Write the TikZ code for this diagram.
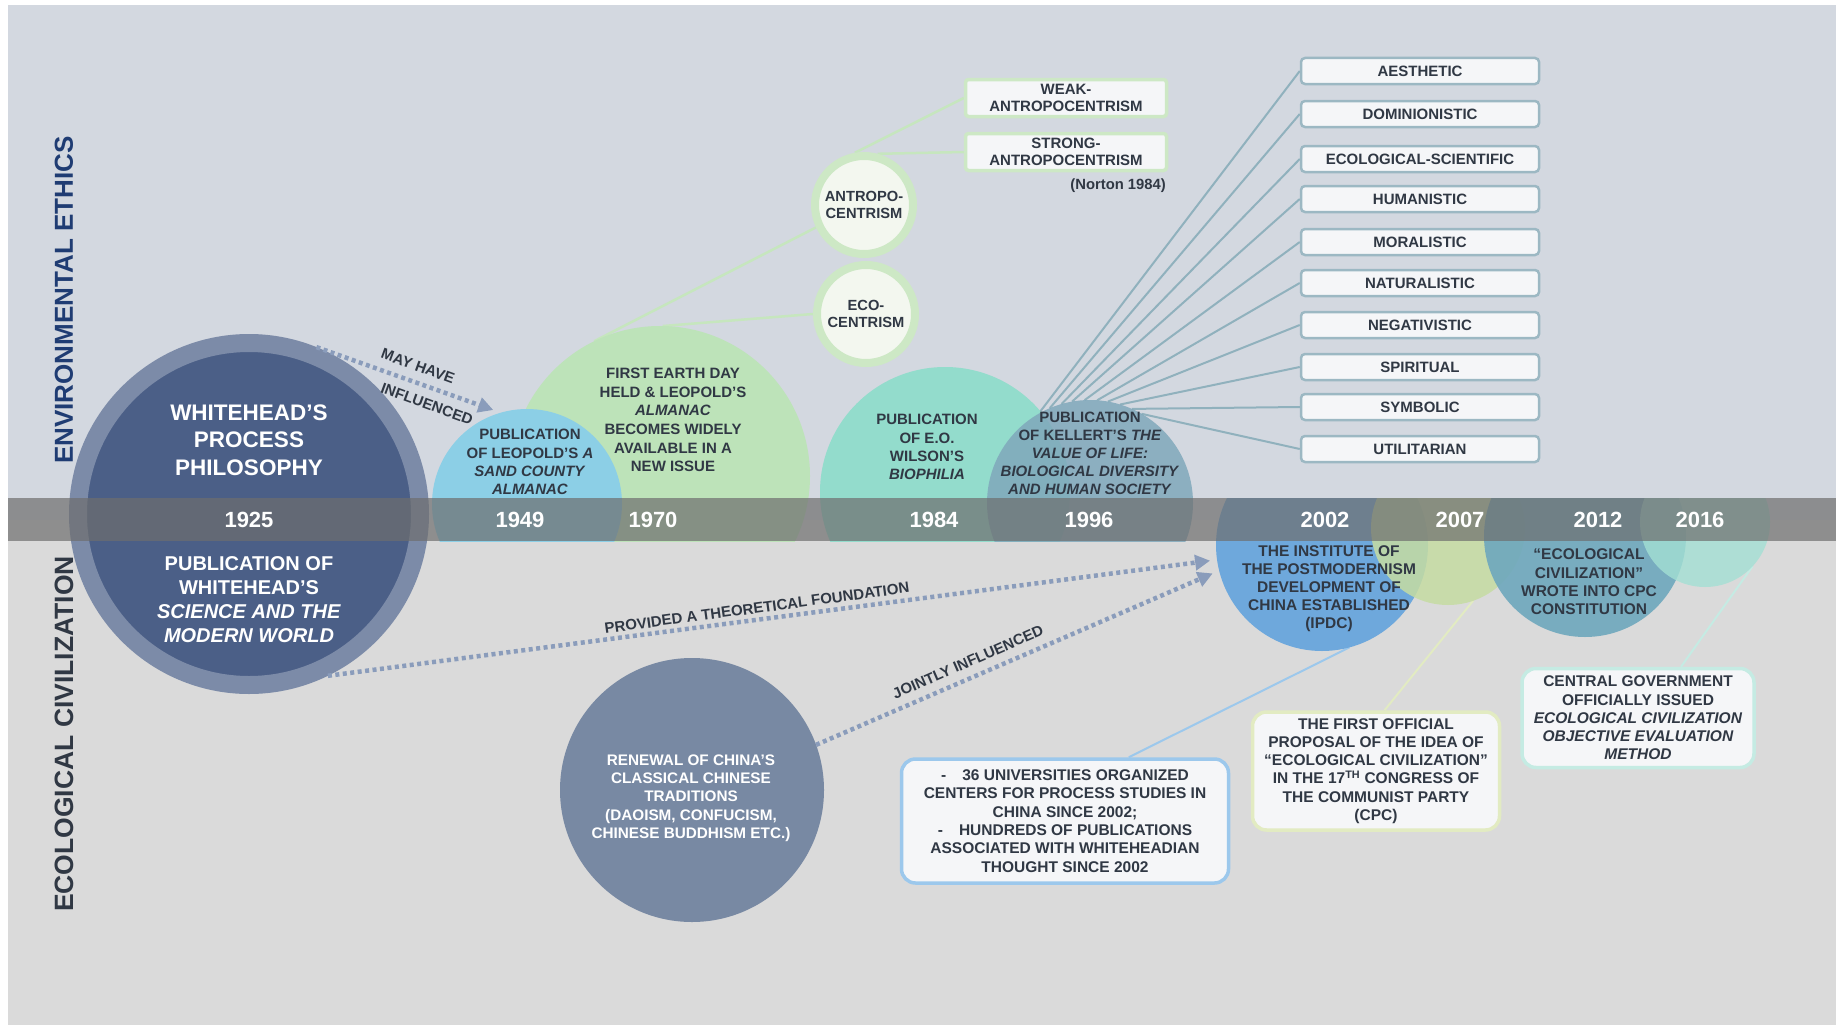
\documentclass[tikz,border=0pt]{standalone}
\usepackage{fontspec}
\setmainfont{Liberation Sans}
\usetikzlibrary{arrows.meta}
\pgfdeclarelayer{back}
\pgfdeclarelayer{lines}
\pgfsetlayers{back,lines,main}
\definecolor{bgtop}{HTML}{D3D8E0}
\definecolor{bgbot}{HTML}{DADADA}
\definecolor{bandc}{HTML}{6E6E6E}
\definecolor{txt}{HTML}{303844}
\definecolor{navy}{HTML}{1F3C73}
\definecolor{whring}{HTML}{7C8BA8}
\definecolor{whin}{HTML}{4B5F87}
\definecolor{c49}{HTML}{8CCFE6}
\definecolor{c70}{HTML}{BDE3B9}
\definecolor{c84}{HTML}{93DCCC}
\definecolor{c96}{HTML}{80A8BB}
\definecolor{c02}{HTML}{6EA8DC}
\definecolor{c07}{HTML}{C6DCA2}
\definecolor{c12}{HTML}{6EA7BD}
\definecolor{c16}{HTML}{A3E0D4}
\definecolor{renew}{HTML}{7889A3}
\definecolor{glow}{HTML}{CDE8C5}
\definecolor{glowin}{HTML}{F3F7EF}
\definecolor{boxfill}{HTML}{F5F6F8}
\definecolor{vline}{HTML}{90B1BD}
\definecolor{vborder}{HTML}{9CB8C3}
\definecolor{arrowc}{HTML}{8A9CBB}
\definecolor{blueline}{HTML}{9CC8EC}
\definecolor{yline}{HTML}{E2EBC2}
\definecolor{tline}{HTML}{C5EBE3}
\definecolor{gline}{HTML}{C6E6BE}
\newcommand{\fsz}[2]{\fontsize{#1}{#2}\selectfont}
\tikzset{
  bub/.style={circle, inner sep=0pt, outer sep=0pt},
  dtxt/.style={text=txt, align=center, inner sep=0pt, font=\bfseries\fsz{15}{18.3}},
  wtxt/.style={text=white, align=center, inner sep=0pt, font=\bfseries\fsz{15.3}{18.3}},
  yr/.style={text=white, inner sep=0pt, font=\bfseries\fsz{22}{24}},
  valbox/.style={draw=vborder, line width=2.5pt, fill=boxfill, rounded corners=4pt, minimum width=238pt, minimum height=26pt, inner sep=0pt, text=txt, font=\bfseries\fsz{15}{17}},
  gbox/.style={draw=glow, line width=3.5pt, fill=boxfill, rounded corners=3pt, minimum width=201pt, minimum height=37pt, inner sep=0pt, align=center, text=txt, font=\bfseries\fsz{15}{17}},
  gcirc/.style={circle, draw=glow, line width=8pt, fill=glowin, minimum size=98pt, inner sep=0pt, align=center, text=txt, font=\bfseries\fsz{14.7}{17}},
  infobox/.style={line width=3.5pt, fill=boxfill, rounded corners=14pt, inner sep=0pt, align=center, text=txt, font=\bfseries\fsz{15.5}{18.3}},
  conn/.style={line width=2pt},
  dotarrow/.style={draw=arrowc, line width=4.5pt, dash pattern=on 4pt off 3.5pt, -{Triangle[length=15pt,width=15pt]}},
  albl/.style={text=txt, inner sep=0pt, font=\bfseries\fsz{15}{17}},
  side/.style={rotate=90, inner sep=0pt, font=\bfseries\fsz{26}{28}},
}
\begin{document}
\begin{tikzpicture}[x=1pt,y=-1pt]
\useasboundingbox (0,0) rectangle (1836,1025);
\begin{pgfonlayer}{back}
\fill[white] (0,0) rectangle (1836,1025);
\fill[bgtop] (8,5) rectangle (1836,520);
\fill[bgbot] (8,520) rectangle (1836,1025);
\end{pgfonlayer}

% side labels
\node[side, text=navy] (envlbl) at (64,300) {ENVIRONMENTAL ETHICS};
\node[side, text=txt, font=\bfseries\fsz{26.5}{28}] (ecolbl) at (64,734) {ECOLOGICAL CIVILIZATION};

% upper circles (cut at the bottom of the band)
\begin{scope}
\clip (8,0) rectangle (1836,541);
\node[bub, minimum size=300pt, fill=c70] (c70) at (660,476) {};
\node[bub, minimum size=190pt, fill=c49] (c49) at (527,504) {};
\node[bub, minimum size=250pt, fill=c84] (c84) at (945,492) {};
\node[bub, minimum size=206pt, fill=c96, fill opacity=0.85] (c96) at (1090,503) {};
\end{scope}

% lower circles (cut at the top of the band)
\begin{scope}
\clip (8,498) rectangle (1836,1025);
\node[bub, minimum size=212pt, fill=c02] (c02) at (1322,545) {};
\node[bub, minimum size=154pt, fill=c07, fill opacity=0.85] (c07) at (1448,528) {};
\node[bub, minimum size=202pt, fill=c12, fill opacity=0.9] (c12) at (1585,536) {};
\node[bub, minimum size=130pt, fill=c16, fill opacity=0.8] (c16) at (1705,522) {};
\end{scope}

% Whitehead circle
\node[circle, draw=whring, line width=18pt, fill=whin, minimum size=342pt, inner sep=0pt] (wh) at (249,514) {};

% band
\fill[bandc, fill opacity=0.7] (8,498) rectangle (1836,541);

% years
\node[yr] (y1925) at (249,520) {1925};
\node[yr] (y1949) at (520,520) {1949};
\node[yr] (y1970) at (653,520) {1970};
\node[yr] (y1984) at (934,520) {1984};
\node[yr] (y1996) at (1089,520) {1996};
\node[yr] (y2002) at (1325,520) {2002};
\node[yr] (y2007) at (1460,520) {2007};
\node[yr] (y2012) at (1598,520) {2012};
\node[yr] (y2016) at (1700,520) {2016};

% Whitehead texts
\node[text=white, align=center, inner sep=0pt, font=\bfseries\fsz{22.5}{27.5}] (whtop) at (249,440) {WHITEHEAD'S\\PROCESS\\PHILOSOPHY};
\node[text=white, align=center, inner sep=0pt, font=\bfseries\fsz{20}{24}] (whbot) at (249,600) {PUBLICATION OF\\WHITEHEAD'S\\\textit{SCIENCE AND THE}\\\textit{MODERN WORLD}};

% upper circle texts
\node[dtxt] (t49) at (530,462) {PUBLICATION\\OF LEOPOLD'S \textit{A}\\\textit{SAND COUNTY}\\\textit{ALMANAC}};
\node[dtxt, font=\bfseries\fsz{15}{18.6}] (t70) at (673,420) {FIRST EARTH DAY\\HELD \& LEOPOLD'S\\\textit{ALMANAC}\\BECOMES WIDELY\\AVAILABLE IN A\\NEW ISSUE};
\node[dtxt] (t84) at (927,447) {PUBLICATION\\OF E.O.\\WILSON'S\\\textit{BIOPHILIA}};
\node[dtxt, font=\bfseries\fsz{15}{18}] (t96) at (1090,453) {PUBLICATION\\OF KELLERT'S \textit{THE}\\\textit{VALUE OF LIFE:}\\\textit{BIOLOGICAL DIVERSITY}\\\textit{AND HUMAN SOCIETY}};

% anthropocentrism / ecocentrism
\node[gcirc] (anc) at (864,205) {ANTROPO-\\CENTRISM};
\node[gcirc] (eco) at (866,314) {ECO-\\CENTRISM};
\node[gbox] (weak) at (1066,98) {WEAK-\\ANTROPOCENTRISM};
\node[gbox] (strong) at (1066,152) {STRONG-\\ANTROPOCENTRISM};
\node[anchor=east, inner sep=0pt, text=txt, font=\bfseries\fsz{14.8}{16}] (norton) at (1166,186) {(Norton 1984)};

% value boxes
\node[valbox] (v1) at (1420,71) {AESTHETIC};
\node[valbox] (v2) at (1420,114) {DOMINIONISTIC};
\node[valbox] (v3) at (1420,159) {ECOLOGICAL-SCIENTIFIC};
\node[valbox] (v4) at (1420,199) {HUMANISTIC};
\node[valbox] (v5) at (1420,242) {MORALISTIC};
\node[valbox] (v6) at (1420,283) {NATURALISTIC};
\node[valbox] (v7) at (1420,325) {NEGATIVISTIC};
\node[valbox] (v8) at (1420,367) {SPIRITUAL};
\node[valbox] (v9) at (1420,407) {SYMBOLIC};
\node[valbox] (v10) at (1420,449) {UTILITARIAN};

% lower circle texts
\node[dtxt, font=\bfseries\fsz{15.5}{18}] (t02) at (1329,589) {THE INSTITUTE OF\\THE POSTMODERNISM\\DEVELOPMENT OF\\CHINA ESTABLISHED\\(IPDC)};
\node[dtxt, font=\bfseries\fsz{15.5}{18.3}] (t12) at (1589,582) {``ECOLOGICAL\\CIVILIZATION''\\WROTE INTO CPC\\CONSTITUTION};

% renewal circle
\node[bub, minimum size=264pt, fill=renew] (ren) at (692,790) {};
\node[wtxt] (rentxt) at (691,798) {RENEWAL OF CHINA'S\\CLASSICAL CHINESE\\TRADITIONS\\(DAOISM, CONFUCISM,\\CHINESE BUDDHISM ETC.)};

% info boxes
\node[infobox, draw=blueline, minimum width=327pt, minimum height=124pt] (b36) at (1065,821) {-\hspace{16pt}36 UNIVERSITIES ORGANIZED\\CENTERS FOR PROCESS STUDIES IN\\CHINA SINCE 2002;\\-\hspace{16pt}HUNDREDS OF PUBLICATIONS\\ASSOCIATED WITH WHITEHEADIAN\\THOUGHT SINCE 2002};
\node[infobox, draw=yline, minimum width=247pt, minimum height=118pt] (b07) at (1376,771) {THE FIRST OFFICIAL\\PROPOSAL OF THE IDEA OF\\``ECOLOGICAL CIVILIZATION''\\IN THE 17\textsuperscript{TH} CONGRESS OF\\THE COMMUNIST PARTY\\(CPC)};
\node[infobox, draw=tline, minimum width=232pt, minimum height=99pt] (b16) at (1638,718) {CENTRAL GOVERNMENT\\OFFICIALLY ISSUED\\\textit{ECOLOGICAL CIVILIZATION}\\\textit{OBJECTIVE EVALUATION}\\\textit{METHOD}};

% connectors behind the shapes
\begin{pgfonlayer}{lines}
\draw[gline, line width=2.5pt] (c70.116) -- (anc.205);
\draw[gline, line width=2.5pt] (c70.89) -- (eco.west);
\draw[gline, line width=2.5pt] (anc.100) -- (weak.west);
\draw[gline, line width=2.5pt] (anc.75) -- (strong.west);
\foreach \a/\b in {120/v1, 113.3/v2, 106.7/v3, 100/v4, 93.3/v5, 86.7/v6, 80/v7, 73.3/v8, 66.7/v9, 60/v10}
  \draw[vline, conn] (c96.\a) -- (\b.west);
\draw[blueline, conn] (c02.-75) -- (b36.45);
\draw[yline, conn] (c07.-71) -- (b07.82);
\draw[tline, conn] (c16.-43) -- (b16.50);
\end{pgfonlayer}

% dotted arrows
\draw[dotarrow, shorten >=8pt] (wh.68) -- (c49.106);
\draw[dotarrow, shorten >=7pt] (wh.-64) -- (c02.188);
\draw[dotarrow, shorten >=7pt] (ren.20) -- (c02.194);

% arrow labels
\node[albl, rotate=-20] (lmay) at (418,366) {MAY HAVE};
\node[albl, rotate=-20] (linf) at (427,404) {INFLUENCED};
\node[albl, rotate=7.7] (lprov) at (757,608) {PROVIDED A THEORETICAL FOUNDATION};
\node[albl, rotate=23.6] (ljoint) at (968,662) {JOINTLY INFLUENCED};
\end{tikzpicture}
\end{document}
